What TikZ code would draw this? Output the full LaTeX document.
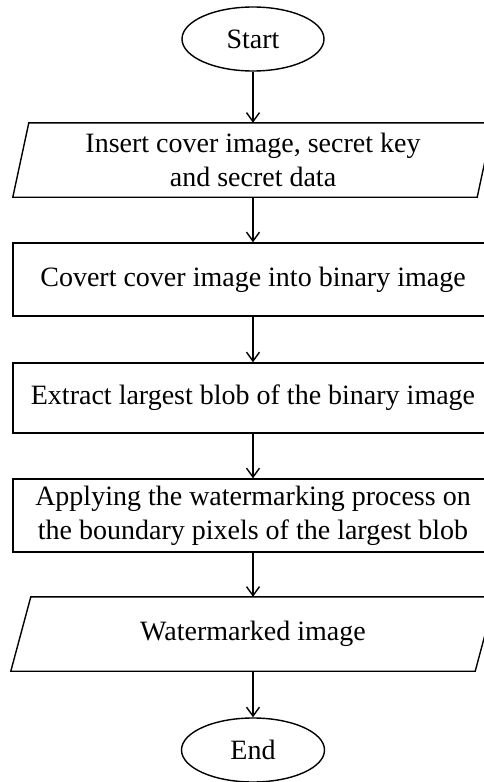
\documentclass[tikz,border=0pt]{standalone}
\usepackage{fontspec}
\setmainfont{Liberation Serif}
\usetikzlibrary{arrows.meta,shapes.geometric}
\begin{document}
\begin{tikzpicture}[x=1pt,y=-1pt,
  every node/.style={font=\fontsize{28}{34}\selectfont, inner sep=0pt},
  term/.style={ellipse, draw, line width=1.4pt, minimum width=142pt, minimum height=64pt},
  procbox/.style={rectangle, draw, line width=1.4pt, minimum width=480pt, align=center},
  iobox/.style={rectangle, minimum width=464pt, minimum height=74pt, align=center},
  flow/.style={line width=1.4pt, -{Straight Barb[length=9pt,width=13pt,line width=1.4pt]}},
  edge/.style={line width=1.4pt, line join=miter}]
\useasboundingbox (0,0) rectangle (484,782);
\clip (0,0) rectangle (484,782);
\fill[white] (0,0) rectangle (484,782);
\node[term] (start) at (253,39) {Start};
\node[iobox] (in1) at (253,160) {Insert cover image, secret key\\and secret data};
\draw[edge] ([xshift=8pt]in1.north west) -- ([xshift=8pt]in1.north east) -- ([xshift=-8pt]in1.south east) -- ([xshift=-8pt]in1.south west) -- cycle;
\node[procbox, minimum height=73pt] (p1) at (253,279.5) {Covert cover image into binary image};
\node[procbox, minimum height=70pt] (p2) at (253,398) {Extract largest blob of the binary image};
\node[procbox, minimum height=73pt] (p3) at (253,515.5) {Applying the watermarking process on\\the boundary pixels of the largest blob};
\node[iobox] (out) at (253,634) {Watermarked image};
\draw[edge] ([xshift=10pt]out.north west) -- ([xshift=10pt]out.north east) -- ([xshift=-10pt]out.south east) -- ([xshift=-10pt]out.south west) -- cycle;
\node[term, minimum width=143pt] (end) at (253,750) {End};
\draw[flow] (start) -- (in1.north);
\draw[flow] (in1.south) -- (p1.north);
\draw[flow] (p1.south) -- (p2.north);
\draw[flow] (p2.south) -- (p3.north);
\draw[flow] (p3.south) -- (out.north);
\draw[flow] (out.south) -- (end);
\end{tikzpicture}
\end{document}
